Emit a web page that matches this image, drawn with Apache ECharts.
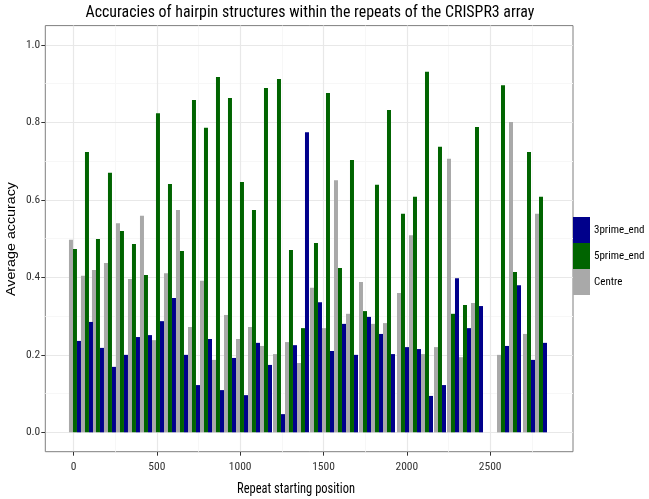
<!DOCTYPE html>
<html>
<head>
<meta charset="utf-8">
<script src="https://cdn.jsdelivr.net/npm/echarts@6/dist/echarts.min.js"></script>
<style>
html,body{margin:0;padding:0;background:#fff;}
#chart{width:649px;height:499px;}
</style>
</head>
<body>
<div id="chart"></div>
<script>
// Repeat starting positions
var positions = [9, 81, 147, 219, 291, 363, 435, 507, 579, 651, 723, 795, 867, 939, 1011, 1083, 1155, 1233, 1305, 1377, 1455, 1527, 1599, 1671, 1749, 1821, 1893, 1977, 2049, 2121, 2199, 2277, 2349, 2421, 2577, 2649, 2733, 2805];
var centre = [0.497, 0.404, 0.419, 0.437, 0.540, 0.396, 0.559, 0.238, 0.411, 0.574, 0.272, 0.391, 0.187, 0.303, 0.241, 0.272, 0.223, 0.202, 0.233, 0.179, 0.373, 0.269, 0.651, 0.306, 0.388, 0.280, 0.282, 0.360, 0.509, 0.202, 0.220, 0.706, 0.194, 0.334, 0.200, 0.801, 0.254, 0.564];
var fivePrime = [0.473, 0.724, 0.499, 0.670, 0.520, 0.486, 0.406, 0.824, 0.641, 0.468, 0.858, 0.786, 0.917, 0.863, 0.646, 0.574, 0.889, 0.912, 0.471, 0.269, 0.489, 0.876, 0.424, 0.703, 0.313, 0.639, 0.832, 0.564, 0.608, 0.931, 0.737, 0.306, 0.329, 0.788, 0.896, 0.414, 0.724, 0.608];
var threePrime = [0.236, 0.285, 0.218, 0.169, 0.200, 0.246, 0.251, 0.287, 0.347, 0.200, 0.122, 0.241, 0.109, 0.192, 0.096, 0.231, 0.174, 0.047, 0.225, 0.775, 0.336, 0.210, 0.280, 0.200, 0.298, 0.254, 0.202, 0.220, 0.215, 0.094, 0.122, 0.398, 0.269, 0.326, 0.223, 0.380, 0.187, 0.231];
var xTicks = [0, 500, 1000, 1500, 2000, 2500];
var xMinor = [250, 750, 1250, 1750, 2250, 2750];
var yTicks = [0, 0.2, 0.4, 0.6, 0.8, 1.0];
var yMinor = [0.1, 0.3, 0.5, 0.7, 0.9];
var seriesNames = ['3prime_end', '5prime_end', 'Centre'];
var titleText = 'Accuracies of hairpin structures within the repeats of the CRISPR3 array';
var xTitle = 'Repeat starting position';
var yTitle = 'Average accuracy';

function pairs(xs, ys) { return xs.map(function (x, i) { return [x, ys[i]]; }); }

var FAM = "'Roboto Condensed', 'Liberation Sans Narrow', 'Liberation Sans', sans-serif";
var cv = document.createElement('canvas').getContext('2d');
function mw(font, s) { cv.font = font; return cv.measureText(s).width; }
function fitScale(text, size, target) { return target / mw(size + 'px ' + FAM, text); }

var gridLines = [];
xMinor.forEach(function (v) { gridLines.push({ xAxis: v, lineStyle: { color: '#f7f7f7', width: 1, type: 'solid' } }); });
yMinor.forEach(function (v) { gridLines.push({ yAxis: v, lineStyle: { color: '#f7f7f7', width: 1, type: 'solid' } }); });
xTicks.forEach(function (v) { gridLines.push({ xAxis: v, lineStyle: { color: '#e8e8e8', width: 1.2, type: 'solid' } }); });
yTicks.forEach(function (v) { gridLines.push({ yAxis: v, lineStyle: { color: '#e8e8e8', width: 1.2, type: 'solid' } }); });

function barSeries(name, values, color, offset) {
  return {
    type: 'custom', name: name, data: pairs(positions, values), z: 10,
    itemStyle: { color: color },
    encode: { x: 0, y: 1 },
    renderItem: function (params, api) {
      var x = api.value(0), y = api.value(1);
      var p0 = api.coord([x, 0]);
      var p1 = api.coord([x, y]);
      return {
        type: 'rect',
        shape: { x: p0[0] + offset, y: p1[1], width: 4, height: p0[1] - p1[1] },
        style: { fill: color }
      };
    }
  };
}

var chart = echarts.init(document.getElementById('chart'), null, { renderer: 'canvas' });
var tScale = fitScale(titleText, 17, 449);
var xtScale = fitScale(xTitle, 15, 118);
var ytLen = mw("14px 'Liberation Sans'", yTitle);
chart.setOption({
  animation: false,
  backgroundColor: '#ffffff',
  graphic: [
    { type: 'text', x: 310, y: 13, scaleX: tScale, scaleY: 1, z: 10,
      style: { text: titleText, fontFamily: FAM, fontSize: 17, fill: '#000', textAlign: 'center', textVerticalAlign: 'middle' } },
    { type: 'text', x: 296, y: 489, scaleX: xtScale, scaleY: 1, z: 10,
      style: { text: xTitle, fontFamily: FAM, fontSize: 15, fill: '#000', textAlign: 'center', textVerticalAlign: 'middle' } },
    { type: 'text', x: 12, y: 239, rotation: Math.PI / 2, scaleX: 114 / ytLen, scaleY: 0.85, z: 10,
      style: { text: yTitle, fontFamily: "'Liberation Sans', Arial, sans-serif", fontSize: 14, fill: '#000', textAlign: 'center', textVerticalAlign: 'middle' } }
  ],
  legend: {
    data: seriesNames,
    orient: 'vertical',
    left: 573, top: 217,
    itemWidth: 17, itemHeight: 26, itemGap: 0,
    icon: 'rect',
    textStyle: { fontFamily: FAM, fontSize: 11, color: '#000', padding: [0, 0, 0, -1] },
    padding: 0
  },
  grid: {
    left: 45.3, right: 76, top: 25.6, bottom: 47.3,
    outerBoundsMode: 'none',
    show: true, borderColor: '#7f7f7f', borderWidth: 1, backgroundColor: 'transparent',
    containLabel: false
  },
  xAxis: {
    type: 'value', min: -169, max: 2997, position: 'bottom',
    axisLine: { show: false, onZero: false },
    axisTick: { show: true, customValues: xTicks, length: 4, lineStyle: { color: '#333', width: 1 } },
    axisLabel: { customValues: xTicks, fontFamily: FAM, fontSize: 11.5, color: '#333', margin: 9,
      formatter: function (v) { return String(v); } },
    splitLine: { show: false }, minorSplitLine: { show: false }
  },
  yAxis: {
    type: 'value', min: -0.05, max: 1.05, position: 'left',
    axisLine: { show: false, onZero: false },
    axisTick: { show: true, customValues: yTicks, length: 4, lineStyle: { color: '#333', width: 1 } },
    axisLabel: { customValues: yTicks, fontFamily: FAM, fontSize: 11.5, color: '#333', margin: 5,
      formatter: function (v) { return v.toFixed(1); } },
    splitLine: { show: false }, minorSplitLine: { show: false }
  },
  series: [
    {
      type: 'line', name: 'grid', data: [], z: 0, zlevel: 0, silent: true, showSymbol: false,
      markLine: { silent: true, z: 0, symbol: ['none', 'none'], label: { show: false }, animation: false, data: gridLines }
    },
    barSeries('Centre', centre, '#A9A9A9', -6),
    barSeries('5prime_end', fivePrime, '#006400', -2),
    barSeries('3prime_end', threePrime, '#00008B', 2)
  ]
});
</script>
</body>
</html>
